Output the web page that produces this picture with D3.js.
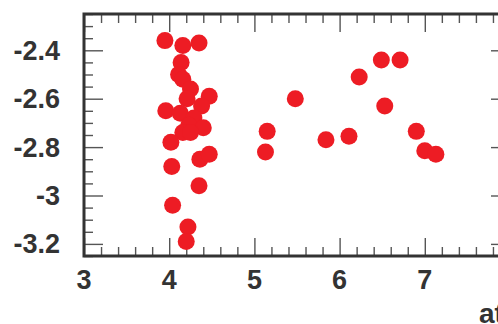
<!DOCTYPE html>
<html>
<head>
<meta charset="utf-8">
<script src="https://cdn.jsdelivr.net/npm/d3@7"></script>
<style>
  html, body { margin: 0; padding: 0; background: #fff; overflow: hidden; }
  svg { display: block; }
  text { font-family: "Liberation Sans", Arial, sans-serif; font-weight: bold; fill: #333; }
</style>
</head>
<body>
<svg id="chart" width="498" height="324"></svg>
<script>
// Sample values (x, y pairs)
const xValues = [3.95, 4.16, 4.35, 4.14, 4.11, 4.16, 4.25, 4.21, 4.47, 3.96,
                 4.13, 4.38, 4.29, 4.23, 4.40, 4.16, 4.25, 4.02, 4.36, 4.47,
                 4.03, 4.35, 4.04, 4.22, 4.20,
                 5.15, 5.13, 5.48, 5.84, 6.11, 6.23, 6.49, 6.71, 6.53, 6.90, 7.00, 7.13];
const yValues = [-2.36, -2.38, -2.37, -2.45, -2.50, -2.52, -2.56, -2.60, -2.59, -2.65,
                 -2.66, -2.63, -2.68, -2.71, -2.72, -2.74, -2.74, -2.78, -2.85, -2.83,
                 -2.88, -2.96, -3.04, -3.13, -3.19,
                 -2.735, -2.82, -2.60, -2.77, -2.755, -2.51, -2.44, -2.44, -2.63, -2.735, -2.815, -2.83];

const xTickValues = [3, 4, 5, 6, 7, 8];
const xTickLabels = [3, 4, 5, 6, 7];
const yTickValues = [-3.2, -3, -2.8, -2.6, -2.4];
const xDomain = [3, 8];
const yDomain = [-3.25, -2.25];
const xAxisTitle = "at";

const svg = d3.select("#chart");
const plot = { left: 84, right: 510, top: 14, bottom: 256 };

const x = d3.scaleLinear().domain(xDomain).range([plot.left, plot.right]);
const y = d3.scaleLinear().domain(yDomain).range([plot.bottom, plot.top]);

const major = 18, minor = 9;
const xMinor = d3.range(xDomain[0], xDomain[1] + 1e-9, 0.2).filter(v => Math.abs(v - Math.round(v)) > 1e-6);
const yMinor = d3.range(yDomain[0], yDomain[1] + 1e-9, 0.05)
  .filter(v => Math.abs(v * 5 - Math.round(v * 5)) > 1e-6);

// Ticks on all four sides, pointing inwards
function drawAxis(axisGen, tickVals, size, transform) {
  const g = svg.append("g").attr("transform", transform)
    .call(axisGen.tickValues(tickVals).tickSize(size).tickFormat(""));
  g.select(".domain").remove();
  g.selectAll(".tick line").attr("stroke", "#555").attr("stroke-width", 1.4);
  return g;
}
const t = {
  bottom: `translate(0,${plot.bottom})`,
  top: `translate(0,${plot.top})`,
  left: `translate(${plot.left},0)`,
  right: `translate(${plot.right},0)`
};
drawAxis(d3.axisTop(x), xTickValues, major, t.bottom);
drawAxis(d3.axisTop(x), xMinor, minor, t.bottom);
drawAxis(d3.axisBottom(x), xTickValues, major, t.top);
drawAxis(d3.axisBottom(x), xMinor, minor, t.top);
drawAxis(d3.axisRight(y), yTickValues, major + 1, t.left);
drawAxis(d3.axisRight(y), yMinor, minor, t.left);
drawAxis(d3.axisLeft(y), yTickValues, major + 1, t.right);
drawAxis(d3.axisLeft(y), yMinor, minor, t.right);

// Frame
svg.append("rect")
  .attr("x", plot.left).attr("y", plot.top)
  .attr("width", plot.right - plot.left).attr("height", plot.bottom - plot.top)
  .attr("fill", "none").attr("stroke", "#333").attr("stroke-width", 3);

// Tick labels
svg.append("g").selectAll("text").data(xTickLabels).join("text")
  .attr("x", d => x(d)).attr("y", plot.bottom + 33)
  .attr("text-anchor", "middle").attr("font-size", 27)
  .text(d => String(d));
svg.append("g").selectAll("text").data(yTickValues).join("text")
  .attr("x", plot.left - 24).attr("y", d => y(d) + 9.5)
  .attr("text-anchor", "end").attr("font-size", 27)
  .text(d => String(d));

// Axis title
svg.append("text")
  .attr("x", 479).attr("y", 323)
  .attr("font-size", 28)
  .text(xAxisTitle);

// Points
svg.append("g").selectAll("circle").data(xValues.map((v, i) => [v, yValues[i]])).join("circle")
  .attr("cx", d => x(d[0])).attr("cy", d => y(d[1]))
  .attr("r", 8.5)
  .attr("fill", "#ed1c24");
</script>
</body>
</html>
